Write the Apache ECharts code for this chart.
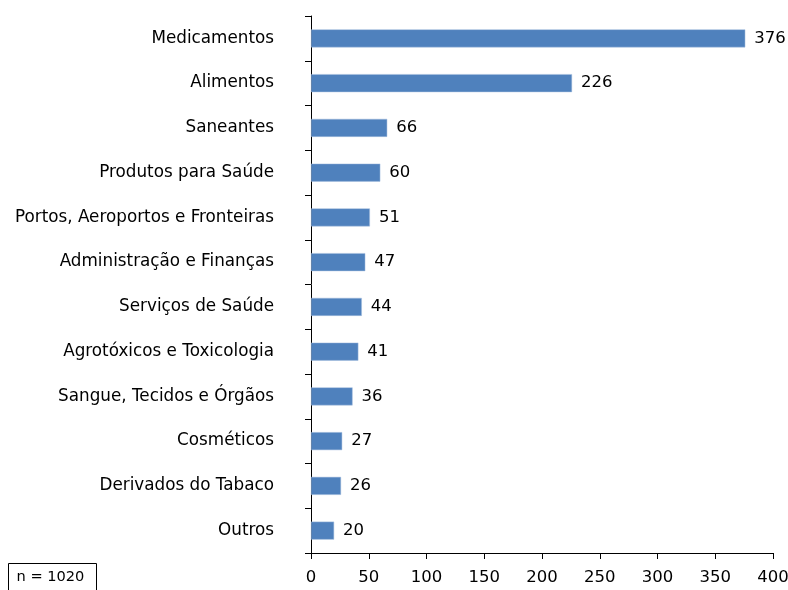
<!DOCTYPE html>
<html>
<head>
<meta charset="utf-8">
<script src="https://cdn.jsdelivr.net/npm/echarts@6/dist/echarts.min.js"></script>
<style>
  html, body { margin: 0; padding: 0; background: #fff; }
  #chart { width: 788px; height: 590px; }
</style>
</head>
<body>
<div id="chart"></div>
<script>
  // categorias de cima para baixo
  const categorias = [
    'Medicamentos', 'Alimentos', 'Saneantes', 'Produtos para Saúde',
    'Portos, Aeroportos e Fronteiras', 'Administração e Finanças',
    'Serviços de Saúde', 'Agrotóxicos e Toxicologia',
    'Sangue, Tecidos e Órgãos', 'Cosméticos', 'Derivados do Tabaco', 'Outros'
  ]
  const valores = [376, 226, 66, 60, 51, 47, 44, 41, 36, 27, 26, 20]
  const totalTexto = 'n = 1020'

  const fonte = 'DejaVu Sans'
  const myChart = echarts.init(document.getElementById('chart'))

  const option = {
    animation: false,
    grid: { left: 311, right: 15, top: 16, bottom: 37, outerBoundsMode: 'none', containLabel: false },
    xAxis: {
      type: 'value',
      min: 0,
      max: 400,
      interval: 50,
      axisLine: { show: true, lineStyle: { color: '#000', width: 1 } },
      axisTick: { show: true, inside: false, length: 6, lineStyle: { color: '#000' } },
      splitLine: { show: false },
      axisLabel: { color: '#000', fontFamily: fonte, fontSize: 16.5, margin: 16 }
    },
    yAxis: {
      type: 'category',
      inverse: true,
      data: categorias,
      axisLine: { show: true, lineStyle: { color: '#000', width: 1 } },
      axisTick: { show: true, length: 6, alignWithLabel: false, lineStyle: { color: '#000' } },
      axisLabel: { color: '#000', fontFamily: fonte, fontSize: 16.8, margin: 37, padding: [3, 0, 0, 0] }
    },
    series: [{
      type: 'bar',
      data: valores,
      barWidth: 18,
      itemStyle: { color: '#4F81BD', borderColor: '#A7BFDE', borderWidth: 0.5 },
      label: {
        show: true,
        position: 'right',
        distance: 9,
        color: '#000',
        fontFamily: fonte,
        fontSize: 16.5,
        padding: [2, 0, 0, 0]
      }
    }],
    graphic: [{
      type: 'group',
      left: 8,
      top: 563,
      children: [{
        type: 'rect',
        shape: { x: 0, y: 0, width: 88, height: 32 },
        style: { fill: '#fff', stroke: '#000', lineWidth: 1 }
      }, {
        type: 'text',
        left: 8,
        top: 6,
        style: { text: totalTexto, fill: '#000', fontFamily: fonte, fontSize: 14.6 }
      }]
    }]
  }
  myChart.setOption(option)
</script>
</body>
</html>
